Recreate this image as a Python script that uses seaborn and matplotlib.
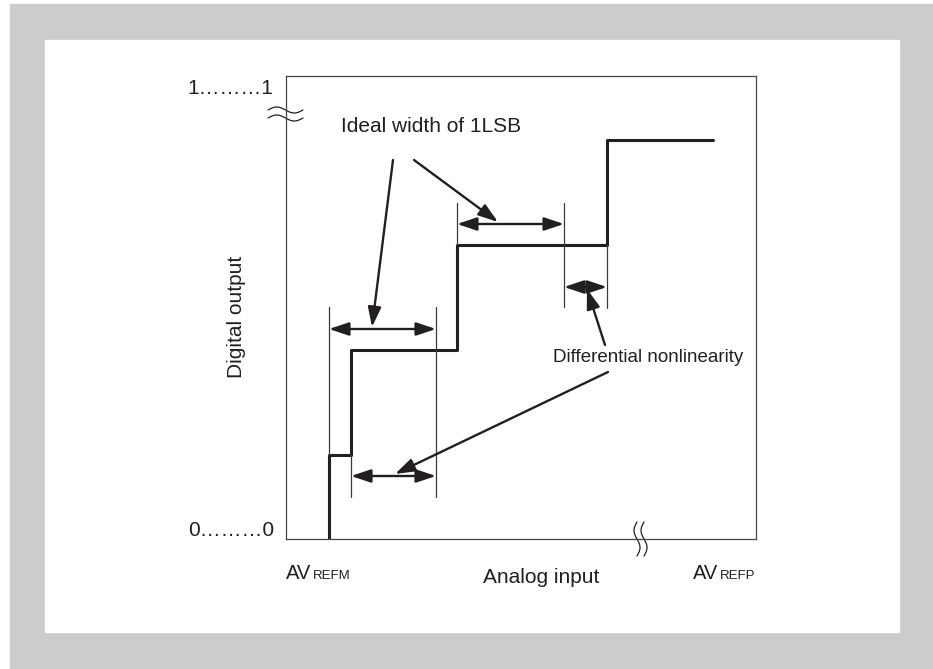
import numpy as np
import pandas as pd
import matplotlib
matplotlib.use('Agg')
import matplotlib.pyplot as plt
from matplotlib.patches import Rectangle
import seaborn as sns

sns.set_style('white')
plt.rcParams['font.family'] = ['Liberation Sans', 'DejaVu Sans']

# transfer curve: input at each code change and output level of each code
x_transitions = [43, 65, 171, 321]
x_end = 427
codes = [84, 189, 294, 399]

# thin guide lines (x, y from, y to)
guides = [(43, 84, 232), (150, 42, 232), (65, 42, 84),
          (171, 294, 336), (278, 232, 336), (321, 231, 294)]
# width arrows (x from, x to, y)
width_arrows = [(43, 150, 210), (65, 150, 63), (171, 278, 315), (278, 321, 252)]
# pointers from the labels (start, tip)
lsb_pointers = [((107, 379), (86, 212)), ((128, 379), (212, 317))]
dnl_pointers = [((319, 194), (301, 250)), ((322, 167), (109, 65))]

ink = '#231f20'

# points of the staircase
edges = x_transitions + [x_end]
px, py = [x_transitions[0]], [0]
for i, c in enumerate(codes):
    px += [edges[i], edges[i + 1]]
    py += [c, c]
df = pd.DataFrame({'x': px, 'y': py})

fig = plt.figure(figsize=(9.33, 6.69), dpi=100)
fig.patches.append(Rectangle((10 / 933, 0), 923 / 933, 665 / 669,
                             transform=fig.transFigure, color='#cccccc', zorder=-10))
fig.patches.append(Rectangle((45 / 933, 1 - 632 / 669), 854 / 933, 592 / 669,
                             transform=fig.transFigure, color='white', zorder=-9))

ax = fig.add_axes([286 / 933, 1 - 539 / 669, 470 / 933, 463 / 669])
ax.set_facecolor('none')

sns.lineplot(data=df, x='x', y='y', sort=False, estimator=None,
             color=ink, lw=2.2, ax=ax)

for gx, y0, y1 in guides:
    ax.plot([gx, gx], [y0, y1], color='#3a3a3a', lw=0.9)

arrow_kw = dict(mutation_scale=20, lw=1.7, color=ink, shrinkA=0, shrinkB=0)
for x0, x1, y in width_arrows:
    ax.annotate('', xy=(x1, y), xytext=(x0, y),
                arrowprops=dict(arrowstyle='<|-|>,head_length=0.6,head_width=0.2', **arrow_kw))
for start, tip in lsb_pointers + dnl_pointers:
    ax.annotate('', xy=tip, xytext=start,
                arrowprops=dict(arrowstyle='-|>,head_length=0.6,head_width=0.2', **arrow_kw))

ax.text(55, 413, 'Ideal width of 1LSB', fontsize=15, ha='left', va='center', color=ink)
ax.text(267, 181, 'Differential nonlinearity', fontsize=13.5, ha='left', va='center', color=ink)

ax.set_xlim(0, 470)
ax.set_ylim(0, 463)
ax.set_xticks([])
ax.set_yticks([])
ax.set_xlabel('')
ax.set_ylabel('')
for s in ax.spines.values():
    s.set_visible(True)
    s.set_color('#444444')
    s.set_linewidth(0.9)

# axis labels
ax.text(-0.105, 0.48, 'Digital output', transform=ax.transAxes, rotation=90,
        fontsize=15, ha='center', va='center', color=ink)
ax.text(0.5426, -0.084, 'Analog input', transform=ax.transAxes,
        fontsize=15, ha='center', va='center', color=ink)
ax.text(-13, 451, '1\u2026\u2026\u20261', fontsize=15, ha='right', va='center', color=ink)
ax.text(-12, 8, '0\u2026\u2026\u20260', fontsize=15, ha='right', va='center', color=ink)

# AVREFM / AVREFP
base = -0.0864
ax.text(0.0, base, 'AV', transform=ax.transAxes, fontsize=14.5, va='baseline', color=ink)
ax.text(0.0564, base, 'REFM', transform=ax.transAxes, fontsize=9.5, va='baseline', color=ink)
ax.text(0.866, base, 'AV', transform=ax.transAxes, fontsize=14.5, va='baseline', color=ink)
ax.text(0.9224, base, 'REFP', transform=ax.transAxes, fontsize=9.5, va='baseline', color=ink)

# axis break marks
t = np.linspace(0, 1, 60)
for yb in (429, 421):
    ax.plot(-18 + 35 * t, yb + 3 * np.sin(2 * np.pi * t), color=ink, lw=0.9, clip_on=False)
for xb in (351, 358):
    ax.plot(xb + 3 * np.sin(2 * np.pi * t), -17 + 34 * t, color=ink, lw=0.9, clip_on=False)

fig.savefig('out.png', dpi=100)
